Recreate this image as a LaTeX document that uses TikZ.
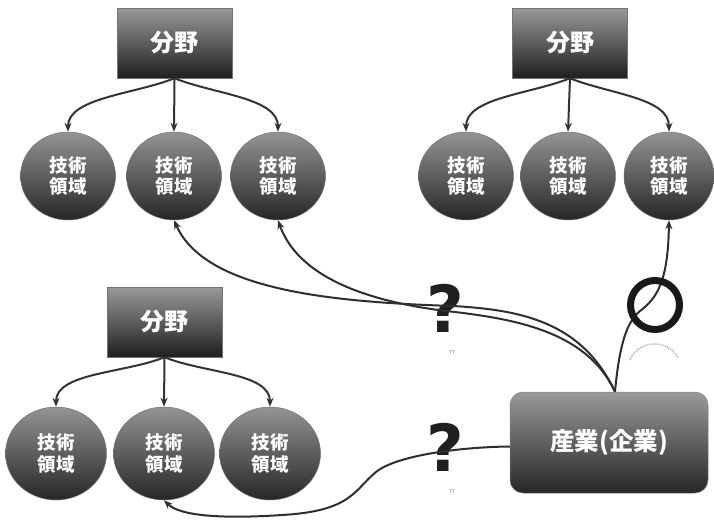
\documentclass[tikz,border=0pt]{standalone}
\usepackage{fontspec}
\newfontfamily\jp{Noto Sans CJK JP}
\newfontfamily\qfont{DejaVu Sans}
\usetikzlibrary{shapes.geometric,arrows.meta}

\begin{document}
\begin{tikzpicture}[x=1pt,y=-1pt,
  field/.style={rectangle, minimum width=115pt, minimum height=70pt,
    top color=black!40, bottom color=black!88, draw=black!55, line width=0.5pt,
    text=white, font=\jp\bfseries\fontsize{24}{26}\selectfont, inner sep=0pt},
  tech/.style={ellipse, minimum width=95pt, minimum height=88pt,
    top color=black!42, bottom color=black!85, draw=black!55, line width=0.5pt,
    text=white, font=\jp\bfseries\fontsize{18.5}{21.5}\selectfont, align=center, inner sep=0pt},
  techwide/.style={tech, minimum width=101pt, minimum height=93pt},
  industry/.style={rectangle, rounded corners=13pt, minimum width=198pt, minimum height=101pt,
    top color=black!40, bottom color=black!85, draw=black!50, line width=0.5pt,
    text=white, font=\jp\bfseries\fontsize{24.5}{26}\selectfont, inner sep=0pt},
  branch/.style={draw=black!80, line width=2pt, -{Stealth[length=9pt,width=7pt]}},
  link/.style={draw=black!82, line width=2pt, -{Stealth[length=9pt,width=7pt]}},
  qmark/.style={anchor=base, inner sep=0pt, text depth=0pt, text=black!88,
    font=\qfont\bfseries\fontsize{65}{65}\selectfont},
  tiny/.style={inner sep=0pt, text=black!55, font=\qfont\fontsize{5.5}{6}\selectfont},
]
\useasboundingbox (0,0) rectangle (714,525);

% --- field boxes ---
\node[field] (fTL) at (174.5,43) {分野};
\node[field] (fTR) at (570,43) {分野};
\node[field] (fBL) at (164.5,322) {分野};

% --- technology areas ---
\node[tech] (tl1) at (68,176) {技術\\領域};
\node[tech] (tl2) at (174,176) {技術\\領域};
\node[tech] (tl3) at (278,176) {技術\\領域};

\node[tech] (tr1) at (466,176) {技術\\領域};
\node[tech] (tr2) at (568,176) {技術\\領域};
\node[tech, minimum width=90pt] (tr3) at (669,176) {技術\\領域};

\node[techwide] (bl1) at (56,453.5) {技術\\領域};
\node[techwide] (bl2) at (164,453.5) {技術\\領域};
\node[techwide] (bl3) at (270,453.5) {技術\\領域};

% --- industry ---
\node[industry] (ind) at (609,442.5) {産業(企業)};

% --- question marks and their tiny captions ---
\node[qmark] (q1) at (445,332) {?};
\node[tiny] (q1t) at (452,352) {??};
\node[qmark] (q2) at (445,471) {?};
\node[tiny] (q2t) at (452,491) {??};

% --- field to area branches ---
\foreach \f/\a/\b/\c in {fTL/tl1/tl2/tl3, fTR/tr1/tr2/tr3, fBL/bl1/bl2/bl3}{
  \draw[branch] (\f.south) .. controls +(-40,16) and +(0,-34) .. (\a.north);
  \draw[branch] (\f.south) -- (\b.north);
  \draw[branch] (\f.south) .. controls +(40,16) and +(0,-34) .. (\c.north);
}

% --- industry links ---
\coordinate (src) at ([xshift=6pt]ind.north);
\coordinate (srcw) at ([yshift=-4pt]ind.west);

\draw[link] (src) .. controls (582,322) and (522,310) .. (453,306)
  .. controls (330,302) and (205,290) .. (tl2.south);
\draw[link] (src) .. controls (588,334) and (522,320) .. (455,312)
  .. controls (380,304) and (300,282) .. (tl3.south);
\draw[link] (src) .. controls (619,348) and (626,322) .. (640,311)
  .. controls (657,298) and (668,282) .. (tr3.south);
\draw[link] (srcw) .. controls (462,447) and (397,455) .. (376,472)
  .. controls (354,490) and (352,511) .. (282,515)
  .. controls (222,519) and (180,516) .. (bl2.south);

% --- approval ring and its faint echo ---
\node[circle, draw=black!90, line width=7pt, minimum size=49pt, inner sep=0pt] (ok) at (655,305) {};
\draw[black!30, line width=1.6pt, dash pattern=on 1pt off 1pt]
  (630,360) .. controls (638,340) and (668,338) .. (678,358);
\end{tikzpicture}
\end{document}
